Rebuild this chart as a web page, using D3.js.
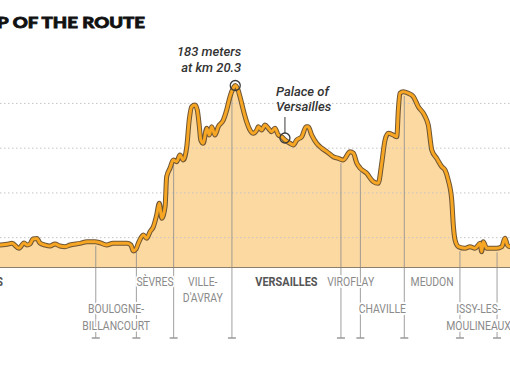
<!DOCTYPE html>
<html>
<head>
<meta charset="utf-8">
<script src="https://cdn.jsdelivr.net/npm/d3@7"></script>
<style>
    body { margin: 0; background: #fff; }
    svg { display: block; }
</style>
</head>
<body>
<svg id="profile"></svg>
<script>

var titleText = "MAP OF THE ROUTE";

// distance (km) and elevation (m)
var km = [0, 1.5, 3, 4.5, 5.5, 6.3, 6.86, 7.26, 7.54, 7.94, 8.23, 8.4, 8.57, 8.74, 8.97, 9.14, 9.43, 9.71, 10.0, 10.29,
    10.57, 10.86, 11.43, 11.83, 12.29, 12.57, 12.95, 13.31, 14.11, 14.34, 14.47, 14.63, 14.76, 15.05, 15.24, 15.43,
    15.62, 15.81, 15.96, 16.1, 16.29, 16.38, 16.57, 16.76, 16.95, 17.14, 17.33, 17.53, 17.67, 17.81, 18.0, 18.13,
    18.25, 18.33, 18.47, 18.67, 18.82, 18.95, 19.14, 19.33, 19.62, 19.81, 20.0, 20.19, 20.3, 20.46, 20.57, 20.76,
    20.95, 21.14, 21.33, 21.53, 21.62, 21.81, 22.0, 22.19, 22.38, 22.57, 22.76, 22.95, 23.14, 23.43, 23.62, 23.81,
    24.1, 24.35, 24.47, 24.67, 24.95, 25.25, 25.53, 25.9, 26.19, 26.47, 26.86, 27.05, 27.24, 27.43, 27.81, 28.19,
    28.47, 28.67, 28.86, 29.05, 29.33, 29.53, 29.62, 29.71, 29.9, 30.19, 30.48, 30.76, 31.05, 31.24, 31.33, 31.53,
    31.81, 32.1, 32.29, 32.47, 32.67, 32.76, 32.86, 33.05, 33.43, 33.71, 34.0, 34.29, 34.38, 34.47, 34.67, 35.24,
    35.53, 35.71, 35.85, 36.0, 37, 38.5, 40, 41, 42.195];

var elevation = [34, 31, 29, 27, 25, 23, 22.6, 23.3, 24.3, 19.3, 24.6, 22.6, 23.6, 28.7, 29.2, 24.6, 22.6, 21.6, 23.6, 21.6,
    20.9, 22.6, 24.3, 25.9, 25.9, 24.9, 22.6, 24.3, 24.3, 22.6, 16.6, 18.6, 24.3, 32.7, 29.4, 36,
    41, 52.8, 64.6, 49.5, 61.1, 91.3, 99.8, 108.1, 106.4, 113.1, 108.1, 121.5, 148.3, 161.7, 163.4, 158.4,
    141.6, 128.2, 124.9, 140, 133.2, 141.6, 133.2, 141.6, 148.3, 158.4, 171.8, 180.5, 183, 178.5, 171.8, 158.4,
    146.6, 138.3, 134.9, 138.3, 141.6, 138.3, 143.3, 140, 136.6, 140, 133.2, 131.5, 128.2, 124.9, 123.2, 128.2,
    131.5, 141.6, 141.6, 133.2, 124.9, 119.9, 116.5, 111.4, 109.8, 108.1, 116.4, 115, 105.1, 100.1, 94.7, 86.3,
    84.7, 104.8, 128.2, 134.9, 133.2, 131.5, 158.4, 175.2, 176.8, 175.2, 171.8, 161.7, 155.1, 148.3, 143.3, 118.2,
    109.8, 101.4, 98, 88, 67.9, 42.7, 27.7, 20.9, 19.3, 20.9, 19.3, 24.3, 15.9, 25.9, 19.3, 19.3,
    20.9, 29.4, 22.6, 20.9, 22, 26, 30, 33, 35];

var gridValues = [30, 75, 120, 165];

// communes crossed, with the km where each one starts
var towns = [["PARIS"], ["BOULOGNE-", "BILLANCOURT"], ["SÈVRES"], ["VILLE-", "D'AVRAY"], ["VERSAILLES"],
    ["VIROFLAY"], ["CHAVILLE"], ["MEUDON"], ["ISSY-LES-", "MOULINEAUX"], ["PARIS"]];
var townStart = [0, 12.33, 14.65, 16.78, 20.11, 26.34, 27.45, 29.96, 33.14, 35.26];
var townRow = [1, 2, 1, 1, 1, 1, 2, 1, 2, 1];
var townMajor = [true, false, false, false, true, false, false, false, false, true];

var peakKm = 20.3, peakElev = 183;
var peakNote = ["183 meters", "at km 20.3"];
var palaceKm = 23.14;
var palaceNote = ["Palace of", "Versailles"];

var width = 510, height = 380;
var totalKm = km[km.length - 1];

var svg = d3.select("#profile")
    .attr("width", width)
    .attr("height", height);

var xScale = d3.scaleLinear()
    .domain([0, totalKm])
    .range([-120, -120 + totalKm * 17.5]);

var yScale = d3.scaleLinear()
    .domain([0, 180])
    .range([267.5, 88.5]);

var elevAt = d3.scaleLinear().domain(km).range(elevation);

var pts = km.map(function (d, i) { return [d, elevation[i]]; });

// title, wide heavy face
svg.append("text")
    .attr("transform", "translate(145,28) scale(1.2,1)")
    .attr("text-anchor", "end")
    .style("font-family", "Lato, 'DejaVu Sans', sans-serif")
    .style("font-weight", 900)
    .style("font-size", "15.5px")
    .style("fill", "#111")
    .style("stroke", "#111")
    .style("stroke-width", 0.8)
    .text(titleText);

// area
var area = d3.area()
    .x(function (d) { return xScale(d[0]); })
    .y0(yScale(0))
    .y1(function (d) { return yScale(d[1]); })
    .curve(d3.curveMonotoneX);

svg.append("path")
    .datum(pts)
    .attr("d", area)
    .attr("fill", "#fdd9a2");

// grid
svg.append("g")
    .selectAll("line")
    .data(gridValues)
    .enter()
    .append("line")
    .attr("x1", 0)
    .attr("x2", width)
    .attr("y1", function (d) { return yScale(d); })
    .attr("y2", function (d) { return yScale(d); })
    .attr("stroke", "#c4c4c4")
    .attr("stroke-width", 1)
    .attr("stroke-dasharray", "1.5,2.5");

// commune boundaries
var bounds = svg.append("g")
    .selectAll("g")
    .data(townStart.slice(1))
    .enter()
    .append("g");

bounds.append("line")
    .attr("x1", function (d) { return xScale(d); })
    .attr("x2", function (d) { return xScale(d); })
    .attr("y1", function (d) { return yScale(elevAt(d)) + 4; })
    .attr("y2", 338)
    .attr("stroke", "#8f8f8f")
    .attr("stroke-opacity", 0.85)
    .attr("stroke-width", 1);

bounds.append("line")
    .attr("x1", function (d) { return xScale(d) - 4; })
    .attr("x2", function (d) { return xScale(d) + 4; })
    .attr("y1", 338)
    .attr("y2", 338)
    .attr("stroke", "#9a9a9a")
    .attr("stroke-width", 1.5);

// baseline
svg.append("line")
    .attr("x1", xScale(0))
    .attr("x2", xScale(totalKm))
    .attr("y1", yScale(0))
    .attr("y2", yScale(0))
    .attr("stroke", "#8d7f6d")
    .attr("stroke-width", 1.2);

// profile line
var line = d3.line()
    .x(function (d) { return xScale(d[0]); })
    .y(function (d) { return yScale(d[1]); })
    .curve(d3.curveMonotoneX);

svg.append("path")
    .datum(pts)
    .attr("d", line)
    .attr("fill", "none")
    .attr("stroke", "#6e5535")
    .attr("stroke-width", 5)
    .attr("stroke-linejoin", "round");

svg.append("path")
    .datum(pts)
    .attr("d", line)
    .attr("fill", "none")
    .attr("stroke", "#f6a623")
    .attr("stroke-width", 3)
    .attr("stroke-linejoin", "round");

// town labels
var rowY = {1: 285.5, 2: 313};
towns.forEach(function (lines, i) {
    var x0 = townStart[i];
    var x1 = i < towns.length - 1 ? townStart[i + 1] : totalKm;
    var cx = (xScale(x0) + xScale(x1)) / 2;
    lines.forEach(function (t, j) {
        svg.append("text")
            .attr("transform", "translate(" + cx + "," + (rowY[townRow[i]] + j * 16.7) + ") scale(" + (townMajor[i] ? 0.84 : 0.8) + ",1)")
            .attr("text-anchor", "middle")
            .style("font-family", "Roboto, 'DejaVu Sans', sans-serif")
            .style("font-size", "13px")
            .style("font-weight", townMajor[i] ? 700 : 400)
            .style("fill", townMajor[i] ? "#555" : "#8a8a8a")
            .style("paint-order", "stroke")
            .style("stroke", "#fff")
            .style("stroke-width", 4)
            .text(t);
    });
});

// peak note
var px = xScale(peakKm), py = yScale(peakElev);
svg.append("circle")
    .attr("cx", px)
    .attr("cy", py)
    .attr("r", 5)
    .attr("fill", "none")
    .attr("stroke", "#3a3a3a")
    .attr("stroke-width", 1.3);

peakNote.forEach(function (t, j) {
    svg.append("text")
        .attr("x", px + 6)
        .attr("y", 56 + j * 15.7)
        .attr("text-anchor", "end")
        .style("font-family", "Roboto, sans-serif")
        .style("font-style", "italic")
        .style("font-weight", 500)
        .style("font-size", "13px")
        .style("fill", "#333")
        .text(t);
});

// palace note
var vx = xScale(palaceKm), vy = yScale(elevAt(palaceKm)) - 2;
svg.append("circle")
    .attr("cx", vx)
    .attr("cy", vy)
    .attr("r", 5)
    .attr("fill", "none")
    .attr("stroke", "#3a3a3a")
    .attr("stroke-width", 1.3);

svg.append("line")
    .attr("x1", vx)
    .attr("x2", vx)
    .attr("y1", vy - 5)
    .attr("y2", 117)
    .attr("stroke", "#3a3a3a")
    .attr("stroke-width", 1);

palaceNote.forEach(function (t, j) {
    svg.append("text")
        .attr("x", vx - 9)
        .attr("y", 95.7 + j * 15.5)
        .style("font-family", "Roboto, sans-serif")
        .style("font-style", "italic")
        .style("font-weight", 500)
        .style("font-size", "13px")
        .style("fill", "#333")
        .text(t);
});

</script>
</body>
</html>
